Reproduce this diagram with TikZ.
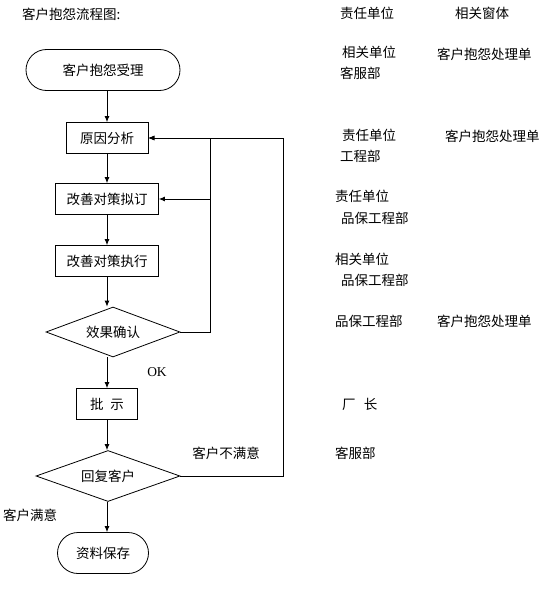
\documentclass[tikz,border=0pt]{standalone}
\usepackage{fontspec}
\newfontfamily\cjk{Noto Sans CJK SC}
\newfontfamily\latinserif{Liberation Serif}
\usetikzlibrary{shapes.geometric,shapes.misc,arrows.meta}
\begin{document}
\begin{tikzpicture}[x=1pt,y=-1pt,
  every node/.style={font=\cjk\fontsize{13.5}{15}\selectfont, inner sep=0pt},
  stepbox/.style={draw, line width=0.8pt, minimum height=31pt, anchor=center},
  term/.style={draw, line width=0.8pt, rounded rectangle, minimum height=41pt},
  decide/.style={draw, line width=0.8pt, diamond, shape aspect=2.7, minimum width=134pt, minimum height=50pt},
  lbl/.style={anchor=west},
  conn/.style={line width=0.8pt},
  arr/.style={conn, -{Latex[length=6pt,width=5pt]}}]
\useasboundingbox (0,0) rectangle (542,594);
\fill[white] (0,0) rectangle (542,594);
% title
\node[lbl] (title) at (22,14) {客户抱怨流程图:};
% flow column
\node[term, minimum width=154pt] (start) at (103,70) {客户抱怨受理};
\node[stepbox, minimum width=82pt] (cause) at (107,138) {原因分析};
\node[stepbox, minimum width=103pt] (plan) at (107,199) {改善对策拟订};
\node[stepbox, minimum width=103pt] (exec) at (107,261) {改善对策执行};
\node[decide] (check) at (113,332) {效果确认};
\node[stepbox, minimum width=61pt] (approve) at (107,404) {批\hspace{0.5em}示};
\node[decide, minimum width=144pt, minimum height=51pt] (reply) at (108,476) {回复客户};
\node[term, minimum width=91pt] (save) at (103,553) {资料保存};
% labels on connectors
\node (ok) at (157,372) {\latinserif OK};
\node (unsat) at (226,453) {客户不满意};
\node (sat) at (30,515) {客户满意};
% guide coordinates
\coordinate (mx) at (107,0);
\coordinate (lx) at (210,0);
\coordinate (rx) at (283,0);
% connectors
\draw[arr] (start.south -| mx) -- (cause.north);
\draw[arr] (cause.south) -- (plan.north);
\draw[arr] (plan.south) -- (exec.north);
\draw[arr] (exec.south) -- (check.north -| mx);
\draw[arr] (check.south -| mx) -- (approve.north);
\draw[arr] (approve.south) -- (reply.north -| mx);
\draw[arr] (reply.south -| mx) -- (save.north -| mx);
\draw[arr] (check.east) -- (check.east -| lx) -- (cause.east -| lx) -- (cause.east);
\draw[arr] (plan.east -| lx) -- (plan.east);
\draw[arr] (reply.east) -- (reply.east -| rx) -- (cause.east -| rx) -- (cause.east);
% right columns
\node[lbl] (h1) at (340,13) {责任单位};
\node[lbl] (h2) at (455,13) {相关窗体};
\node[lbl] (r1a) at (342,52) {相关单位};
\node[lbl] (r1b) at (340,73) {客服部};
\node[lbl] (r1c) at (437,54) {客户抱怨处理单};
\node[lbl] (r2a) at (342,135) {责任单位};
\node[lbl] (r2b) at (340,156) {工程部};
\node[lbl] (r2c) at (445,136) {客户抱怨处理单};
\node[lbl] (r3a) at (335,196) {责任单位};
\node[lbl] (r3b) at (341,218) {品保工程部};
\node[lbl] (r4a) at (335,259) {相关单位};
\node[lbl] (r4b) at (341,280) {品保工程部};
\node[lbl] (r5a) at (335,321) {品保工程部};
\node[lbl] (r5c) at (437,321) {客户抱怨处理单};
\node[lbl] (r6a) at (342,404) {厂\hspace{0.6em}长};
\node[lbl] (r7a) at (335,453) {客服部};
\end{tikzpicture}
\end{document}
